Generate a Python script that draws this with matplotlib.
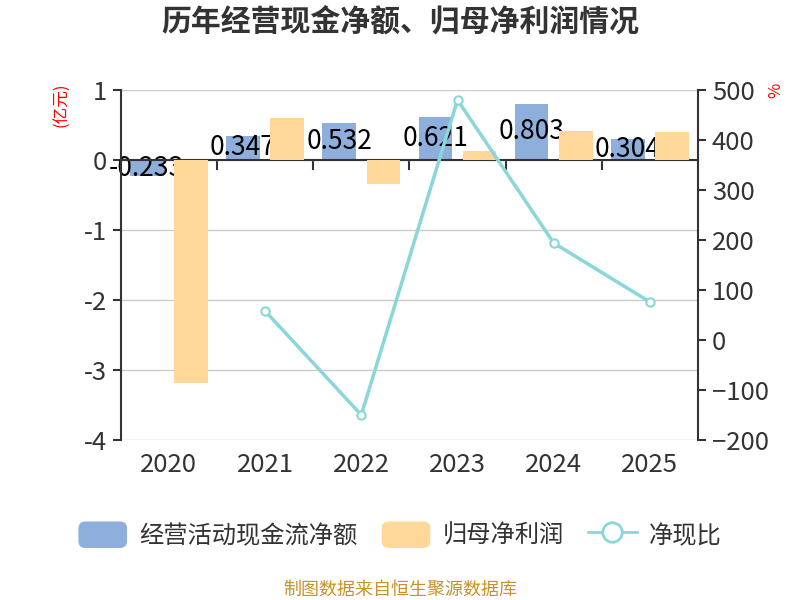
import matplotlib
matplotlib.use("Agg")
from matplotlib import pyplot as plt
from matplotlib.patches import FancyBboxPatch, Patch
from matplotlib.legend_handler import HandlerPatch
from matplotlib.lines import Line2D
import matplotlib.transforms as mtransforms
import numpy as np

plt.rcParams['font.family'] = ['Noto Sans CJK SC', 'DejaVu Sans']

years = ["2020", "2021", "2022", "2023", "2024", "2025"]
cash_flow = [-0.233, 0.347, 0.532, 0.621, 0.803, 0.304]
net_profit = [-3.19, 0.60, -0.34, 0.13, 0.41, 0.40]
ratio_years = ["2021", "2022", "2023", "2024", "2025"]
ratio = [58, -150, 480, 194, 76]

blue = "#8eaedb"
orange = "#ffd899"
teal = "#8ad6d9"
dark = "#333333"


class RoundHandler(HandlerPatch):
    def create_artists(self, legend, orig_handle, xdescent, ydescent,
                       width, height, fontsize, trans):
        p = FancyBboxPatch((-xdescent, -ydescent), width, height,
                           boxstyle="round,pad=0,rounding_size=5",
                           fc=orig_handle.get_facecolor(), ec="none",
                           transform=trans)
        return [p]


fig = plt.figure(figsize=(8, 6), dpi=100)
ax = fig.add_axes([0.151, 0.2667, 0.7215, 0.5833])
ax2 = ax.twinx()

x = np.arange(len(years))
w = 0.35
off = 0.23

ax.bar(x - off, cash_flow, w, color=blue, zorder=2)
ax.bar(x + off, net_profit, w, color=orange, zorder=3)
for xi, v in zip(x, cash_flow):
    ax.text(xi - off, v / 2, f"{v:g}", ha="center", va="center",
            fontsize=19, color="black", zorder=2.5)

ax.set_xlim(-0.5, len(years) - 0.5)
ax.set_ylim(-4, 1)
ax.set_yticks(range(-4, 2))
ax.set_yticklabels([str(t) for t in range(-4, 2)])
ax.grid(axis="y", color="#cccccc", linewidth=1, zorder=0)
ax.set_axisbelow(True)

# x axis line at zero, ticks at category boundaries
ax.spines["bottom"].set_position(("data", 0))
ax.spines["bottom"].set_color(dark)
ax.spines["bottom"].set_linewidth(1.5)
ax.spines["top"].set_visible(False)
ax.spines["right"].set_visible(False)
ax.spines["left"].set_color(dark)
ax.spines["left"].set_linewidth(1.5)
ax.set_xticks(x)
ax.set_xticklabels([])
ax.tick_params(axis="x", which="major", length=0)
ax.set_xticks(np.arange(len(years) - 1) + 0.5, minor=True)
ax.tick_params(axis="x", which="minor", length=7, width=1.5, color=dark,
               direction="out")
ax.tick_params(axis="y", length=6, width=1.5, color=dark, labelcolor=dark,
               labelsize=18.5, pad=4)
trans = mtransforms.blended_transform_factory(ax.transData, ax.transAxes)
for xi, yr in zip(x, years):
    ax.text(xi, -0.035, yr, transform=trans, ha="center", va="top",
            fontsize=18.5, color=dark)

ax2.plot([years.index(y) for y in ratio_years], ratio, color=teal,
         linewidth=2.5, marker="o", markersize=6, markerfacecolor="white",
         markeredgecolor=teal, markeredgewidth=1.5, zorder=5)
ax2.set_ylim(-200, 500)
ax2.set_yticks(range(-200, 501, 100))
for s in ["top", "left", "bottom"]:
    ax2.spines[s].set_visible(False)
ax2.spines["right"].set_color(dark)
ax2.spines["right"].set_linewidth(1.5)
ax2.tick_params(axis="y", length=6, width=1.5, color=dark, labelcolor=dark,
                labelsize=18.5, pad=4)

fig.text(0.5, 0.963, "历年经营现金净额、归母净利润情况", ha="center",
         va="center", fontsize=21.5, fontweight="bold", color=dark)
fig.text(0.077, 0.825, "(亿元)", ha="center", va="center", rotation=90,
         fontsize=12, color="red")
fig.text(0.97, 0.85, "%", ha="center", va="center", rotation=90,
         fontsize=12, color="red")
fig.text(0.5, 0.017, "制图数据来自恒生聚源数据库", ha="center", va="center",
         fontsize=13, color="#c8922a")

handles = [
    Patch(facecolor=blue, label="经营活动现金流净额"),
    Patch(facecolor=orange, label="归母净利润"),
    Line2D([], [], color=teal, linewidth=2, marker="o", markersize=14,
           markerfacecolor="white", markeredgecolor=teal,
           markeredgewidth=2, label="净现比"),
]
fig.legend(handles=handles, loc="center", bbox_to_anchor=(0.5, 0.108),
           ncol=3, frameon=False, fontsize=17.5, labelcolor=dark,
           handlelength=2.0, handleheight=1.3, handletextpad=0.5,
           columnspacing=1.0,
           handler_map={Patch: RoundHandler()})

fig.savefig("out.png", dpi=100)
